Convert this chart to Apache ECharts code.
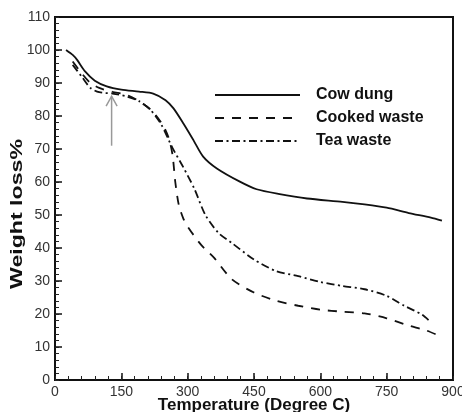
<!DOCTYPE html>
<html>
<head>
<meta charset="utf-8">
<script src="https://cdn.jsdelivr.net/npm/echarts@6/dist/echarts.min.js"></script>
<style>
  html, body { margin: 0; padding: 0; background: #fff; }
  #chart { width: 462px; height: 412px; }
</style>
</head>
<body>
<div id="chart"></div>
<script>
// Thermogravimetric curves: weight remaining (%) against temperature (°C)
const seriesNames = ['Cow dung', 'Cooked waste', 'Tea waste'];

const cowDungTemp = [25, 40, 50, 68, 90, 117, 150, 190, 222, 250, 268, 290, 313, 335, 366, 418, 456, 505, 570, 650, 700, 750, 800, 850, 875];
const cowDungWeight = [100, 98.5, 97, 93.5, 90.7, 89, 88, 87.4, 86.8, 84.8, 82.3, 77.8, 72.7, 67.7, 64.1, 60.1, 57.8, 56.4, 55, 54, 53.2, 52.2, 50.6, 49.2, 48.3];

const cookedTemp = [40, 60, 80, 100, 130, 160, 190, 220, 245, 258, 266, 272, 280, 290, 300, 330, 360, 400, 450, 500, 550, 600, 650, 700, 750, 800, 840, 875];
const cookedWeight = [96.5, 93, 90, 88.5, 87.3, 86.5, 84.5, 81.5, 77, 73, 68, 60, 53, 49, 46.5, 41, 37, 30.5, 26.5, 24, 22.5, 21.3, 20.7, 20.2, 18.7, 16.5, 15, 13];

const teaTemp = [40, 60, 80, 100, 130, 160, 190, 215, 240, 265, 290, 315, 340, 370, 400, 450, 500, 550, 600, 650, 700, 750, 790, 830, 850];
const teaWeight = [95.5, 92, 88.5, 87.2, 86.8, 86, 84.5, 82, 77.5, 70.5, 64.5, 58, 50, 44.5, 41.5, 36.5, 33, 31.5, 29.7, 28.5, 27.5, 25.5, 22.5, 19.8, 17.5];

// Annotation arrow: temperature, tail weight, tip weight
const arrowMark = [[128, 71, 86]];

const xTicks = { min: 0, max: 900, interval: 150, minorInterval: 30 };
const yTicks = { min: 0, max: 110, interval: 10, minorInterval: 2 };

const xTitle = 'Temperature (Degree C)';
const yTitle = 'Weight loss%';

const pairs = (xs, ys) => xs.map((x, i) => [x, ys[i]]);

const font = 'Liberation Sans, Arial, Helvetica, sans-serif';
const ink = '#111';

function lineSeries(name, data, dash) {
  return {
    name: name,
    type: 'line',
    data: data,
    xAxisIndex: 0,
    yAxisIndex: 0,
    symbol: 'none',
    smooth: 0.25,
    lineStyle: { color: ink, width: 1.8, type: dash },
    itemStyle: { color: ink },
    z: 3
  };
}

const axisCommon = {
  axisLine: { show: true, lineStyle: { color: ink, width: 2 } },
  axisTick: { show: true, inside: true, length: 7, lineStyle: { color: ink, width: 1.5 } },
  splitLine: { show: false },
  axisLabel: { color: '#333', fontSize: 14, fontFamily: font, margin: 5 },
  nameTextStyle: { color: ink, fontSize: 17, fontWeight: 'bold', fontFamily: font },
  nameMoveOverlap: false
};

// Unlabelled companion axes that carry the short minor ticks
function minorAxis(ticks, position) {
  return {
    type: 'value',
    position: position,
    min: ticks.min, max: ticks.max, interval: ticks.minorInterval,
    axisLine: { show: false },
    axisTick: { show: true, inside: true, length: 4, lineStyle: { color: '#222', width: 1 } },
    axisLabel: { show: false },
    splitLine: { show: false }
  };
}

const chart = echarts.init(document.getElementById('chart'), null, { renderer: 'canvas' });

chart.setOption({
  backgroundColor: '#fff',
  animation: false,
  grid: {
    left: 55, right: 9, top: 17, bottom: 32,
    containLabel: false,
    outerBoundsMode: 'none',
    show: true,
    borderColor: ink,
    borderWidth: 2
  },
  // Vertical axis title, drawn wide-set along its reading direction
  graphic: [{
    type: 'text',
    x: 17,
    y: 214,
    rotation: Math.PI / 2,
    scaleX: 1.36,
    style: {
      text: yTitle,
      font: 'bold 17px ' + font,
      fill: ink,
      align: 'center',
      verticalAlign: 'middle'
    }
  }],
  legend: {
    data: seriesNames,
    orient: 'vertical',
    left: 214,
    top: 87,
    padding: 0,
    itemWidth: 85,
    itemHeight: 16,
    itemGap: 7,
    itemStyle: { opacity: 0 },
    textStyle: { color: ink, fontSize: 16, fontWeight: 'bold', fontFamily: font, padding: [0, 0, 0, 11] },
    selectedMode: false
  },
  xAxis: [
    Object.assign({}, axisCommon, {
      type: 'value',
      position: 'bottom',
      min: xTicks.min, max: xTicks.max, interval: xTicks.interval,
      name: xTitle,
      nameLocation: 'middle',
      nameGap: 17
    }),
    minorAxis(xTicks, 'bottom')
  ],
  yAxis: [
    Object.assign({}, axisCommon, {
      type: 'value',
      position: 'left',
      min: yTicks.min, max: yTicks.max, interval: yTicks.interval
    }),
    minorAxis(yTicks, 'left')
  ],
  series: [
    lineSeries(seriesNames[0], pairs(cowDungTemp, cowDungWeight), 'solid'),
    lineSeries(seriesNames[1], pairs(cookedTemp, cookedWeight), [9, 8]),
    lineSeries(seriesNames[2], pairs(teaTemp, teaWeight), [8, 3.5, 2, 3.5]),
    {
      type: 'custom',
      data: arrowMark,
      silent: true,
      z: 2,
      renderItem: function (params, api) {
        const tail = api.coord([api.value(0), api.value(1)]);
        const tip = api.coord([api.value(0), api.value(2)]);
        const style = { stroke: '#999', lineWidth: 1.5, fill: null };
        return {
          type: 'group',
          children: [
            { type: 'line', shape: { x1: tail[0], y1: tail[1], x2: tip[0], y2: tip[1] }, style: style },
            { type: 'polyline', shape: { points: [[tip[0] - 5.5, tip[1] + 10], [tip[0], tip[1]], [tip[0] + 5.5, tip[1] + 10]] }, style: style }
          ]
        };
      }
    }
  ]
});
</script>
</body>
</html>
